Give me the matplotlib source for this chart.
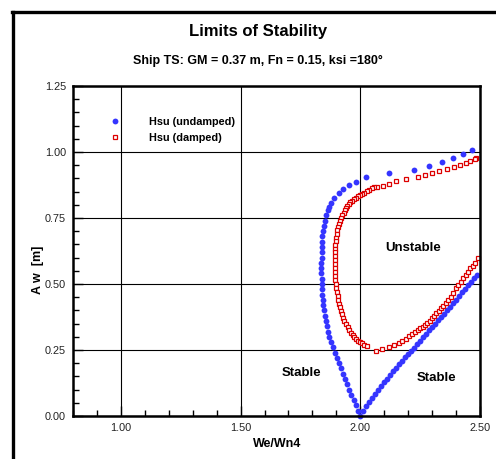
import matplotlib
matplotlib.use("Agg")
import matplotlib.pyplot as plt
from matplotlib.lines import Line2D
from matplotlib.ticker import MultipleLocator, FormatStrFormatter

plt.rcParams["font.family"] = ["Liberation Sans", "DejaVu Sans"]

# Hsu (undamped) - blue dots
undamped_x = [2.468, 2.430, 2.388, 2.343, 2.285, 2.225, 2.120, 2.023, 1.982, 1.951,
              1.926, 1.910, 1.892, 1.878, 1.870,
              1.864, 1.856, 1.851, 1.847, 1.844, 1.842, 1.840, 1.839, 1.838, 1.838,
              1.837, 1.837, 1.837, 1.838, 1.839, 1.840, 1.842, 1.844, 1.846, 1.849,
              1.852, 1.855, 1.859, 1.864, 1.870, 1.877, 1.885, 1.893, 1.901, 1.910,
              1.919, 1.928, 1.937, 1.946, 1.954, 1.963, 1.972, 1.981, 1.990, 2.000,
              2.0125, 2.025, 2.0375, 2.050, 2.0625, 2.075, 2.0875, 2.100, 2.1125, 2.125,
              2.1375, 2.150, 2.1625, 2.175, 2.1875, 2.200, 2.2125, 2.225, 2.2375, 2.250,
              2.2625, 2.275, 2.2875, 2.300, 2.3125, 2.325, 2.3375, 2.350, 2.3625, 2.375,
              2.3875, 2.400, 2.4125, 2.425, 2.4375, 2.450, 2.4625, 2.475, 2.4875]
undamped_y = [1.008, 0.992, 0.978, 0.963, 0.948, 0.932, 0.919, 0.904, 0.888, 0.875,
              0.859, 0.844, 0.824, 0.805, 0.793,
              0.780, 0.760, 0.740, 0.720, 0.700, 0.680, 0.660, 0.640, 0.620, 0.600,
              0.580, 0.560, 0.540, 0.520, 0.500, 0.480, 0.460, 0.440, 0.420, 0.400,
              0.380, 0.360, 0.340, 0.320, 0.300, 0.280, 0.260, 0.240, 0.220, 0.200,
              0.180, 0.160, 0.140, 0.120, 0.100, 0.080, 0.060, 0.040, 0.020, 0.000,
              0.018, 0.036, 0.053, 0.069, 0.084, 0.099, 0.113, 0.127, 0.141, 0.155,
              0.169, 0.183, 0.196, 0.209, 0.222, 0.235, 0.247, 0.259, 0.272, 0.285,
              0.298, 0.311, 0.324, 0.337, 0.350, 0.362, 0.375, 0.388, 0.401, 0.414,
              0.427, 0.440, 0.454, 0.468, 0.481, 0.495, 0.508, 0.521, 0.535]

# Hsu (damped) - red open squares
damped_x = [2.485, 2.480, 2.460, 2.440, 2.415, 2.390, 2.364, 2.330, 2.300, 2.270,
            2.240, 2.190, 2.150, 2.120, 2.093, 2.068,
            2.058, 2.048, 2.037, 2.027, 2.017, 2.008, 2.000, 1.990, 1.980, 1.972,
            1.965, 1.958, 1.952, 1.946, 1.940, 1.935, 1.930, 1.925, 1.920, 1.915,
            1.911, 1.907, 1.904, 1.901, 1.899, 1.897, 1.896, 1.895, 1.894, 1.893,
            1.893, 1.893, 1.893, 1.894, 1.895, 1.896, 1.898, 1.900, 1.902, 1.905,
            1.908, 1.911, 1.915, 1.919, 1.924, 1.929, 1.934, 1.940, 1.947, 1.954,
            1.961, 1.968, 1.975, 1.983, 1.991, 1.999, 2.008, 2.017, 2.026,
            2.065, 2.090, 2.118, 2.140, 2.160, 2.176, 2.190, 2.205, 2.218, 2.230,
            2.240, 2.250, 2.260, 2.270, 2.280, 2.290, 2.298, 2.308, 2.318, 2.327,
            2.336, 2.346, 2.357, 2.367, 2.378, 2.389, 2.400, 2.410, 2.420, 2.430,
            2.440, 2.450, 2.460, 2.470, 2.480, 2.490]
damped_y = [0.979, 0.973, 0.967, 0.960, 0.951, 0.944, 0.936, 0.928, 0.919, 0.913,
            0.904, 0.896, 0.889, 0.879, 0.871, 0.868,
            0.866, 0.862, 0.857, 0.852, 0.846, 0.841, 0.837, 0.832, 0.827, 0.821,
            0.815, 0.809, 0.802, 0.795, 0.787, 0.779, 0.770, 0.760, 0.750, 0.740,
            0.728, 0.716, 0.703, 0.690, 0.676, 0.662, 0.648, 0.634, 0.620, 0.605,
            0.590, 0.575, 0.560, 0.545, 0.530, 0.515, 0.500, 0.485, 0.470, 0.455,
            0.440, 0.426, 0.412, 0.398, 0.385, 0.372, 0.360, 0.348, 0.336, 0.325,
            0.315, 0.306, 0.298, 0.291, 0.285, 0.280, 0.275, 0.270, 0.266,
            0.247, 0.255, 0.263, 0.269, 0.278, 0.285, 0.292, 0.302, 0.311, 0.319,
            0.326, 0.332, 0.338, 0.345, 0.353, 0.361, 0.370, 0.379, 0.389, 0.398,
            0.408, 0.417, 0.427, 0.439, 0.452, 0.467, 0.483, 0.496, 0.509, 0.521,
            0.534, 0.546, 0.559, 0.570, 0.580, 0.597]

fig = plt.figure(figsize=(4.96, 4.59), dpi=100)
ax = fig.add_axes([73 / 496, 1 - 416 / 459, 407 / 496, 330 / 459])

ax.plot(undamped_x, undamped_y, linestyle="none", marker="o", markersize=4.2,
        color="#3535ff", markeredgewidth=0, label="Hsu (undamped)", clip_on=False)
ax.plot(damped_x, damped_y, linestyle="none", marker="s", markersize=3.3,
        markerfacecolor="white", markeredgecolor="#dd0000", markeredgewidth=0.9,
        label="Hsu (damped)", clip_on=False)

ax.set_xlim(0.8, 2.5)
ax.set_ylim(0, 1.25)
ax.xaxis.set_major_locator(MultipleLocator(0.5))
ax.xaxis.set_minor_locator(MultipleLocator(0.1))
ax.yaxis.set_major_locator(MultipleLocator(0.25))
ax.yaxis.set_minor_locator(MultipleLocator(0.05))
ax.xaxis.set_major_formatter(FormatStrFormatter("%.2f"))
ax.yaxis.set_major_formatter(FormatStrFormatter("%.2f"))
ax.tick_params(which="both", direction="in", labelsize=7.8, colors="black",
               labelcolor="#222222", pad=5)
ax.tick_params(which="major", length=7, width=1)
ax.tick_params(which="minor", length=4, width=1)
ax.grid(True, which="major", color="black", linewidth=0.8)
ax.set_axisbelow(True)
for s in ax.spines.values():
    s.set_linewidth(1.8)

leg = ax.legend(loc="upper left", bbox_to_anchor=(0.052, 0.935), frameon=False,
                prop={"weight": "bold", "size": 7.8}, handletextpad=2.2,
                labelspacing=0.55, markerscale=1.0)

ax.text(2.22, 0.636, "Unstable", ha="center", va="center", fontsize=9.5, fontweight="bold")
ax.text(1.754, 0.163, "Stable", ha="center", va="center", fontsize=9.5, fontweight="bold")
ax.text(2.32, 0.144, "Stable", ha="center", va="center", fontsize=9.5, fontweight="bold")

fig.text(258 / 496, 1 - 36 / 459, "Limits of Stability", ha="center", va="baseline",
         fontsize=12, fontweight="bold")
fig.text(258 / 496, 1 - 64 / 459, "Ship TS: GM = 0.37 m, Fn = 0.15, ksi =180°",
         ha="center", va="baseline", fontsize=9, fontweight="bold")
fig.text(38 / 496, 1 - 270 / 459, "A w  [m]", rotation=90, ha="center", va="center",
         fontsize=9, fontweight="bold")
fig.text(277 / 496, 1 - 444 / 459, "We/Wn4", ha="center", va="center",
         fontsize=9, fontweight="bold")

# frame border on left and top
fig.add_artist(Line2D([13 / 496, 13 / 496], [0, 1 - 11.5 / 459], color="black",
                      linewidth=2.4, transform=fig.transFigure))
fig.add_artist(Line2D([12 / 496, 1], [1 - 11.5 / 459, 1 - 11.5 / 459], color="black",
                      linewidth=2.4, transform=fig.transFigure))

fig.savefig("out.png", dpi=100)
